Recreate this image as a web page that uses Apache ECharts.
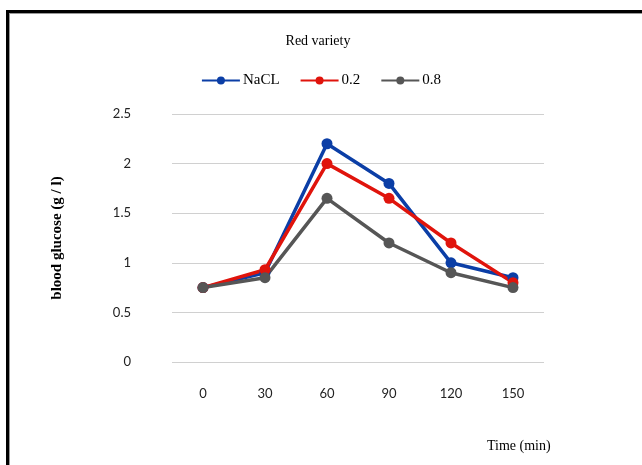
<!DOCTYPE html>
<html>
<head>
<meta charset="utf-8">
<script src="https://cdn.jsdelivr.net/npm/echarts@6/dist/echarts.min.js"></script>
<style>
  html, body { margin: 0; padding: 0; background: #fff; }
  #wrap { position: relative; width: 642px; height: 465px; overflow: hidden; }
  #frame { position: absolute; left: 6px; top: 10px; width: 700px; height: 500px;
    border: 3px solid #000; box-shadow: inset 1px 1px 0 #999; }
  #chart { position: absolute; left: 0; top: 0; width: 642px; height: 465px; }
</style>
</head>
<body>
<div id="wrap">
  <div id="frame"></div>
  <div id="chart"></div>
</div>
<script>
// 数据
const times = ['0', '30', '60', '90', '120', '150']
const naclData = [0.75, 0.9, 2.2, 1.8, 1.0, 0.85]
const low02Data = [0.75, 0.93, 2.0, 1.65, 1.2, 0.8]
const high08Data = [0.75, 0.85, 1.65, 1.2, 0.9, 0.75]

const myChart = echarts.init(document.getElementById('chart'))

const serif = '"Liberation Serif", "DejaVu Serif", serif'
const sans = 'Lato, "Open Sans", sans-serif'

function makeSeries(name, data, color) {
    return {
        name: name,
        type: 'line',
        data: data,
        symbol: 'circle',
        symbolSize: 11,
        color: color,
        lineStyle: { width: 3.5, color: color },
        itemStyle: { color: color }
    }
}

const option = {
    animation: false,
    backgroundColor: 'transparent',
    title: {
        text: 'Red variety',
        left: 313,
        top: 29,
        textAlign: 'center',
        textStyle: { fontFamily: serif, fontWeight: 'normal', fontSize: 14, color: '#000' }
    },
    legend: {
        data: ['NaCL', '0.2', '0.8'],
        left: 'center',
        top: 68,
        itemWidth: 38,
        itemHeight: 10,
        itemGap: 20,
        itemStyle: { borderWidth: 0 },
        lineStyle: { width: 2 },
        textStyle: { fontFamily: serif, fontSize: 15, color: '#000', padding: [0, 0, 0, -2] }
    },
    grid: {
        left: 172,
        right: 98,
        top: 114,
        bottom: 103,
        containLabel: false
    },
    graphic: [{
        type: 'text',
        left: 487,
        top: 439,
        style: { text: 'Time (min)', fontFamily: serif, fontSize: 14, fill: '#000' }
    }],
    xAxis: {
        type: 'category',
        data: times,
        axisLine: { show: false },
        axisTick: { show: false },
        axisLabel: { fontFamily: sans, fontSize: 13, color: '#222', margin: 25 }
    },
    yAxis: {
        type: 'value',
        min: 0,
        max: 2.5,
        interval: 0.5,
        name: 'blood glucose (g / l)',
        nameLocation: 'middle',
        nameGap: 107,
        nameRotate: 90,
        nameTextStyle: { fontFamily: serif, fontWeight: 'bold', fontSize: 15, color: '#000' },
        axisLine: { show: false },
        axisTick: { show: false },
        axisLabel: { fontFamily: sans, fontSize: 13, color: '#222', margin: 41 },
        splitLine: { lineStyle: { color: '#d0d0d0', width: 1 } }
    },
    series: [
        makeSeries('NaCL', naclData, '#0b3ea6'),
        makeSeries('0.2', low02Data, '#e0140c'),
        makeSeries('0.8', high08Data, '#565656')
    ]
}

myChart.setOption(option)
</script>
</body>
</html>
